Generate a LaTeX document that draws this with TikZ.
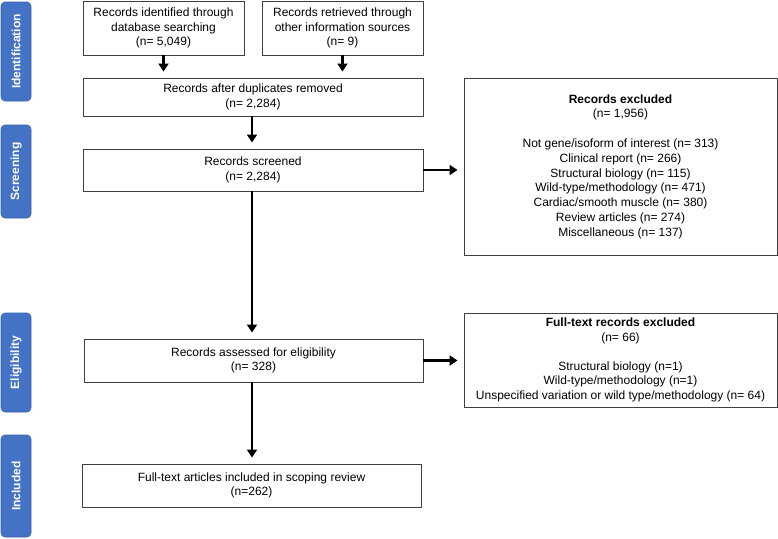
\documentclass[tikz,border=0pt]{standalone}
\usepackage{fontspec}
\setmainfont{Liberation Sans}
\usetikzlibrary{arrows.meta}
\definecolor{phase}{HTML}{4472C4}
\definecolor{phaseedge}{HTML}{3A63AD}
\definecolor{boxedge}{HTML}{404040}
\begin{document}
\begin{tikzpicture}[x=1pt,y=-1pt,
  flowbox/.style={draw=boxedge,line width=0.9pt,fill=white,rectangle,align=center,
    inner sep=0pt,font=\fontsize{12}{14.5}\selectfont},
  phasebox/.style={draw=phaseedge,line width=0.6pt,fill=phase,rounded corners=4pt,
    text=white,font=\bfseries\fontsize{12}{14}\selectfont,rotate=90,inner sep=0pt,
    minimum height=30pt},
  flowarrow/.style={line width=2.4pt,-{Triangle[length=8pt,width=10pt]},shorten >=6pt}]
\useasboundingbox (0,0) rectangle (778,538);

% phase labels
\node[phasebox,minimum width=99pt] (pid) at (16,51.5) {Identification};
\node[phasebox,minimum width=93pt] (psc) at (16,171.5) {Screening};
\node[phasebox,minimum width=99pt] (pel) at (16,362.5) {Eligibility};
\node[phasebox,minimum width=102pt] (pin) at (16,486) {Included};

% boxes
\node[flowbox,minimum width=161pt,minimum height=54pt] (a) at (163.5,28)
  {Records identified through\\database searching\\(n= 5,049)};
\node[flowbox,minimum width=161pt,minimum height=54pt] (b) at (342.5,28)
  {Records retrieved through\\other information sources\\(n= 9)};
\node[flowbox,minimum width=340pt,minimum height=38pt] (c) at (253,97)
  {Records after duplicates removed\\(n= 2,284)};
\node[flowbox,minimum width=340pt,minimum height=42pt] (d) at (253,170)
  {Records screened\\(n= 2,284)};
\node[flowbox,minimum width=313pt,minimum height=177pt,font=\fontsize{12}{14.8}\selectfont] (e) at (620.5,166.5)
  {\textbf{Records excluded}\\(n= 1,956)\\[14.8pt]
   Not gene/isoform of interest (n= 313)\\
   Clinical report (n= 266)\\
   Structural biology (n= 115)\\
   Wild-type/methodology (n= 471)\\
   Cardiac/smooth muscle (n= 380)\\
   Review articles (n= 274)\\
   Miscellaneous (n= 137)};
\node[flowbox,minimum width=339pt,minimum height=43pt] (f) at (253.5,360.5)
  {Records assessed for eligibility\\(n= 328)};
\node[flowbox,minimum width=313pt,minimum height=94pt] (g) at (620.5,360)
  {\textbf{Full-text records excluded}\\(n= 66)\\[14.5pt]
   Structural biology (n=1)\\
   Wild-type/methodology (n=1)\\
   Unspecified variation or wild type/methodology (n= 64)};
\node[flowbox,minimum width=339pt,minimum height=43pt] (h) at (251.5,485.5)
  {Full-text articles included in scoping review\\(n=262)};

% arrows
\draw[flowarrow] (a.south) -- (a.south |- c.north);
\draw[flowarrow] (b.south) -- (b.south |- c.north);
\draw[flowarrow] (c.south -| 252,0) -- (d.north -| 252,0);
\draw[flowarrow] (d.east) -- (d.east -| e.west);
\draw[flowarrow] (d.south -| 252,0) -- (f.north -| 252,0);
\draw[flowarrow] (f.east) -- (f.east -| g.west);
\draw[flowarrow] (f.south -| 252,0) -- (h.north -| 252,0);
\end{tikzpicture}
\end{document}
